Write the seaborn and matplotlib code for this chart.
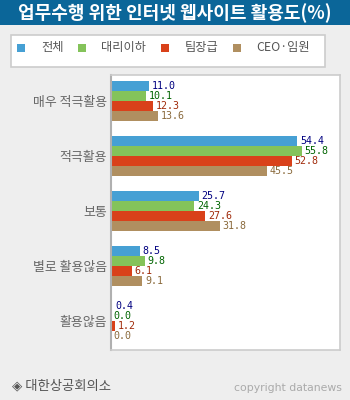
import matplotlib
matplotlib.use("Agg")
import matplotlib.pyplot as plt
from matplotlib.patches import Rectangle
import seaborn as sns
import pandas as pd

categories = ["매우 적극활용", "적극활용", "보통", "별로 활용않음", "활용않음"]
groups = ["전체", "대리이하", "팀장급", "CEO·임원"]
v_total = [11.0, 54.4, 25.7, 8.5, 0.4]
v_staff = [10.1, 55.8, 24.3, 9.8, 0.0]
v_team = [12.3, 52.8, 27.6, 6.1, 1.2]
v_ceo = [13.6, 45.5, 31.8, 9.1, 0.0]
title = "업무수행 위한 인터넷 웹사이트 활용도(%)"
source = "◈ 대한상공회의소"
credit = "copyright datanews"

bar_colors = ["#46a0d4", "#84c35a", "#d9411a", "#b08f60"]
label_colors = ["#000080", "#006400", "#a02a0a", "#8a6a3c"]

sns.set_theme(style="white")
plt.rcParams['font.family'] = ['Noto Sans CJK KR', 'DejaVu Sans']

rows = []
for g, vals in zip(groups, [v_total, v_staff, v_team, v_ceo]):
    for c, v in zip(categories, vals):
        rows.append({"category": c, "group": g, "value": v})
df = pd.DataFrame(rows)

W, H = 350, 400
fig = plt.figure(figsize=(W / 100, H / 100), dpi=100)
fig.patch.set_facecolor("#eeeeee")

def fx(px):
    return px / W

def fy(py):
    return 1 - py / H

ax = fig.add_axes([fx(111), fy(350), fx(340) - fx(111), fy(75) - fy(350)])
ax.set_facecolor("white")

sns.barplot(data=df, y="category", x="value", hue="group", order=categories,
            hue_order=groups, palette=bar_colors, orient="h", width=0.73,
            dodge=True, saturation=1, legend=False, ax=ax, errorbar=None,
            linewidth=0, edgecolor="none")

for cont, col in zip(ax.containers, label_colors):
    ax.bar_label(cont, fmt="%.1f", padding=2, color=col, fontsize=7.2,
                 family="DejaVu Sans Mono")

ax.set_xlim(0, 66.96)
off = 0.027
ax.set_ylim(4.5 + off, -0.5 + off)
ax.set_xlabel("")
ax.set_ylabel("")
ax.set_xticks([])
ax.tick_params(axis="y", which="major", length=0, pad=3, labelsize=9.3,
               labelcolor="#666666")
ax.set_yticks([0.5, 1.5, 2.5, 3.5], minor=True)
ax.tick_params(axis="y", which="minor", direction="in", length=5, width=1,
               color="#999999")
for s in ["top", "right", "bottom"]:
    ax.spines[s].set_color("#cccccc")
    ax.spines[s].set_linewidth(1.2)
ax.spines["left"].set_color("#b0b0b0")
ax.spines["left"].set_linewidth(1.5)

# title banner
fig.patches.append(Rectangle((0, fy(25)), 1, fy(0) - fy(25), transform=fig.transFigure,
                             facecolor="#0b6699", edgecolor="none", zorder=0))
fig.text(0.5, fy(13), title, color="white", fontsize=13, fontweight="bold",
         ha="center", va="center")

# legend box
fig.patches.append(Rectangle((fx(10.5), fy(67)), fx(325) - fx(10.5), fy(35) - fy(67),
                             transform=fig.transFigure, facecolor="white",
                             edgecolor="#cccccc", linewidth=1.2, zorder=0))
marker_x = [17, 78, 161, 233]
text_x = [41, 101, 185, 256]
for g, c, mx, tx in zip(groups, bar_colors, marker_x, text_x):
    fig.patches.append(Rectangle((fx(mx), fy(52)), fx(8), 8 / H,
                                 transform=fig.transFigure, facecolor=c,
                                 edgecolor="none", zorder=1))
    fig.text(fx(tx), fy(48), g, color="#555555", fontsize=8.8,
             ha="left", va="center")

fig.text(fx(12), fy(385), source, color="#555555", fontsize=9.6, ha="left",
         va="center")
fig.text(fx(342), fy(388), credit, color="#aaaaaa", fontsize=7.8, ha="right",
         va="center", family="DejaVu Sans")

fig.savefig("out.png", dpi=100, facecolor=fig.get_facecolor())
